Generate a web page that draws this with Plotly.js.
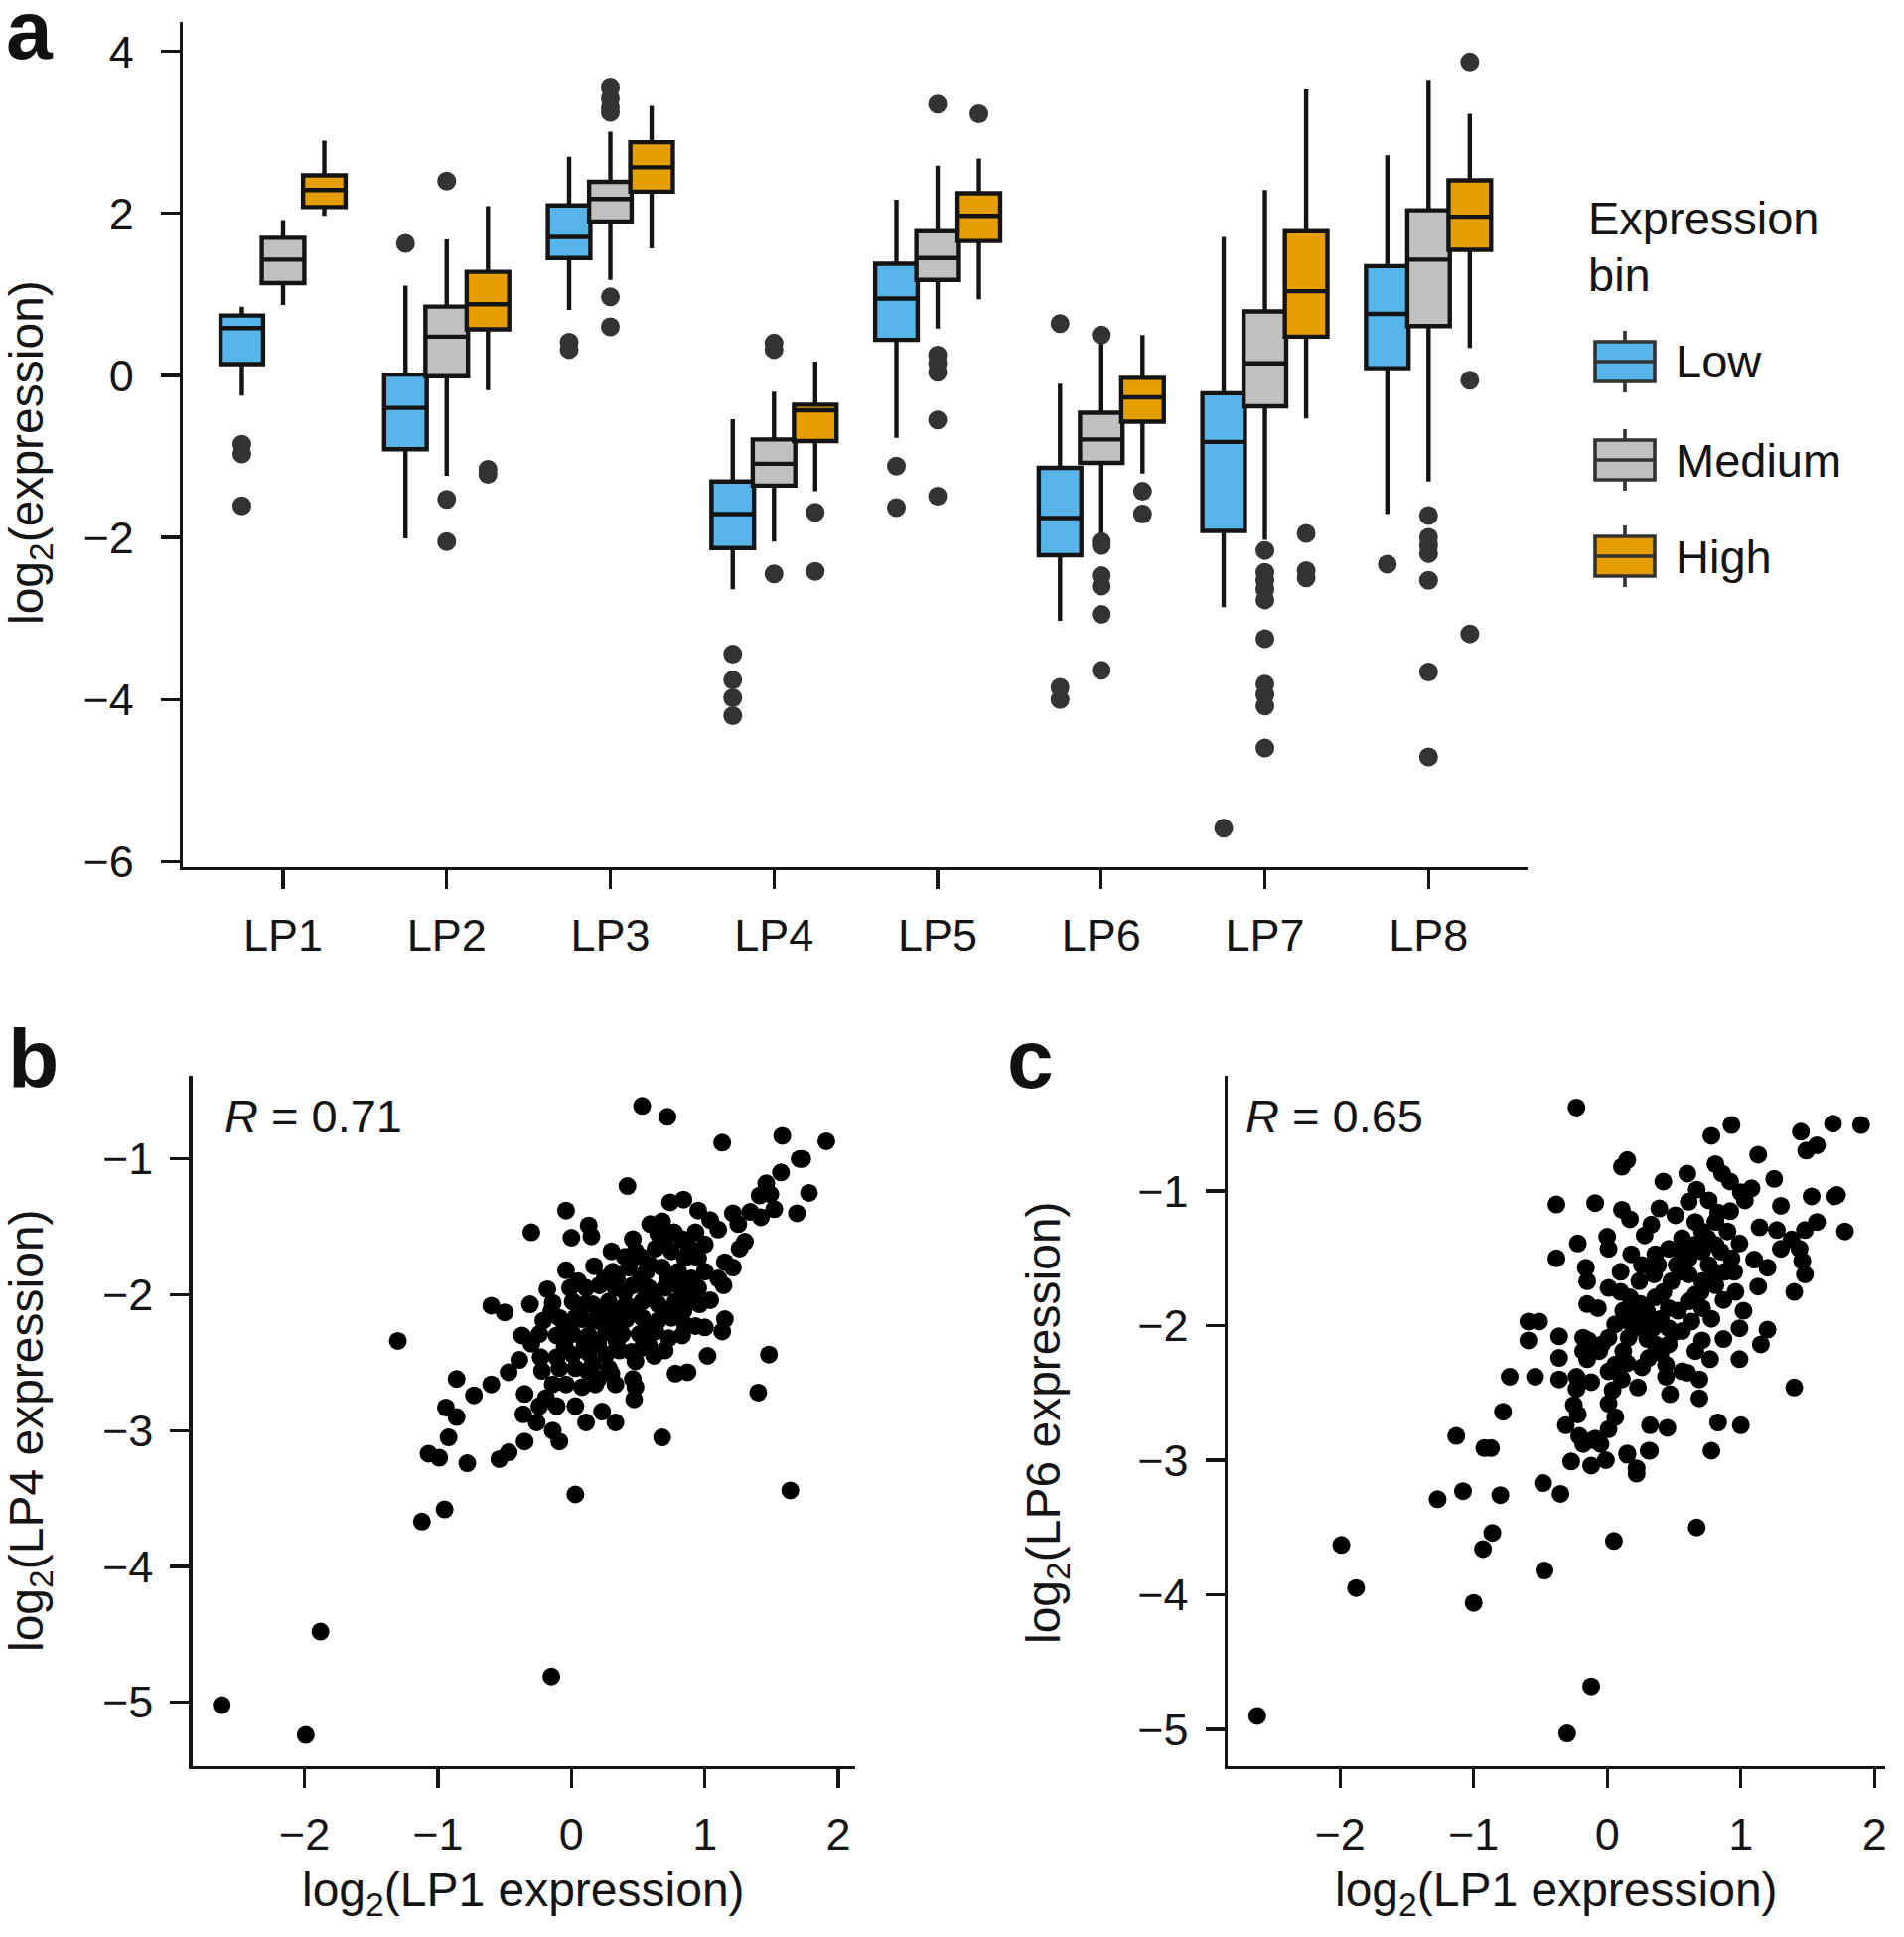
<!DOCTYPE html>
<html>
<head>
<meta charset="utf-8">
<script src="https://cdn.plot.ly/plotly-3.0.1.min.js"></script>
<style>html,body{margin:0;padding:0;background:#fff;}#chart{width:1917px;height:1950px;}</style>
</head>
<body>
<div id="chart"></div>
<script>
// ---------------- DATA ----------------
const categories = ['LP1','LP2','LP3','LP4','LP5','LP6','LP7','LP8'];
const bins = ['Low','Medium','High'];

// Panel a: box statistics per bin (one value per LP)
const lowQ1     = [0.14, -0.91, 1.45, -2.13, 0.44, -2.22, -1.92, 0.09];
const lowMedian = [0.585, -0.40, 1.71, -1.71, 0.95, -1.76, -0.82, 0.76];
const lowQ3     = [0.74, 0.01, 2.10, -1.31, 1.38, -1.14, -0.22, 1.35];
const lowLower  = [-0.25, -2.01, 0.81, -2.64, -0.77, -3.03, -2.86, -1.71];
const lowUpper  = [0.85, 1.11, 2.70, -0.54, 2.17, -0.10, 1.71, 2.72];
const lowOutliers = [[-0.85,-0.97,-1.61],[1.63],[0.41,0.32],[-3.44,-3.76,-3.98,-4.20],[-1.12,-1.63],[0.64,-3.85,-4.00],[-5.59],[-2.33]];

const medQ1     = [1.14, -0.01, 1.90, -1.36, 1.18, -1.08, -0.38, 0.61];
const medMedian = [1.43, 0.48, 2.18, -1.09, 1.45, -0.79, 0.15, 1.43];
const medQ3     = [1.70, 0.85, 2.39, -0.79, 1.78, -0.46, 0.79, 2.04];
const medLower  = [0.87, -1.24, 1.18, -2.05, 0.58, -1.96, -2.03, -1.31];
const medUpper  = [1.92, 1.68, 3.01, -0.20, 2.59, 0.42, 2.29, 3.64];
const medOutliers = [[],[2.40,-1.53,-2.05],[3.55,3.42,3.31,3.25,0.97,0.60],[0.40,0.32,-2.45],[3.35,0.25,0.15,0.04,-0.55,-1.49],[0.50,-2.05,-2.10,-2.47,-2.60,-2.95,-3.64],[-2.16,-2.43,-2.53,-2.64,-2.77,-3.25,-3.81,-3.94,-4.08,-4.60],[-1.73,-2.00,-2.10,-2.20,-2.53,-3.66,-4.71]];

const highQ1     = [2.08, 0.57, 2.27, -0.81, 1.66, -0.57, 0.48, 1.55];
const highMedian = [2.29, 0.88, 2.57, -0.43, 1.97, -0.27, 1.04, 1.96];
const highQ3     = [2.47, 1.28, 2.88, -0.36, 2.25, -0.03, 1.78, 2.41];
const highLower  = [1.97, -0.18, 1.57, -1.43, 0.94, -1.21, -0.53, 0.34];
const highUpper  = [2.90, 2.09, 3.33, 0.17, 2.68, 0.50, 3.53, 3.23];
const highOutliers = [[],[-1.16,-1.22],[],[-1.69,-2.42],[3.23],[-1.43,-1.71],[-1.95,-2.41,-2.50],[3.87,-0.06,-3.19]];

// Panel b: LP1 vs LP4 (log2 expression)
const lp1_b = [1.13,1.58,1.91,1.71,1.73,1.57,1.46,1.41,1.49,1.78,1.69,1.52,1.42,1.34,1.21,1.25,1.30,1.26,0.42,-0.04,
-0.30,0.00,0.13,0.15,0.74,0.84,0.95,1.04,1.10,0.59,0.68,0.77,0.46,0.70,0.83,0.93,1.00,0.30,0.48,0.63,
0.75,0.85,0.95,1.15,1.21,0.17,-0.04,0.31,0.43,0.56,0.68,0.80,0.90,1.00,1.10,1.14,1.04,-0.18,-0.01,0.11,
0.21,0.33,0.46,0.58,0.70,0.83,0.95,-0.31,-0.60,-0.50,-0.14,0.01,0.16,0.28,0.41,0.53,0.65,0.78,-0.21,-0.09,
0.03,0.16,0.28,0.41,0.53,0.65,0.75,0.85,0.93,1.00,1.15,1.13,-0.37,-0.24,-0.11,0.01,0.13,0.26,0.38,0.51,
0.63,0.73,0.83,0.53,0.70,-0.23,-0.11,0.01,0.13,0.26,0.36,0.48,-0.39,-0.22,-0.09,0.03,0.16,0.28,-0.47,-0.60,
-0.73,-0.14,0.08,0.18,0.33,0.46,0.48,0.47,-0.35,-0.19,-0.24,-0.11,0.03,-0.36,-0.26,-0.14,-0.09,0.11,0.23,0.33,
-0.35,-0.47,-0.54,-0.78,0.68,0.78,0.87,1.02,1.48,1.40,
0.34,0.22,0.47,0.34,0.59,0.10,0.34,0.72,0.59,0.84,0.10,-0.05,0.20,-0.04,0.83,0.96,0.58,
0.05,0.25,0.40,0.52,0.62,0.72,0.90,0.22,0.45,0.62,0.08,-0.15,0.30,0.40,0.52,0.88,0.65,0.12,-0.30,-0.05,0.20,0.36,0.56,0.78,
-1.30,-0.86,-0.94,-0.86,-0.92,-1.07,-0.99,-1.12,-0.95,0.03,1.64,-1.88,-2.62,-1.99,-0.15,0.53,0.72];
const lp4_b = [-0.88,-0.83,-0.87,-1.00,-1.00,-1.10,-1.18,-1.27,-1.26,-1.25,-1.40,-1.37,-1.43,-1.39,-1.40,-1.48,-1.61,-1.66,-1.20,-1.38,
-1.54,-1.58,-1.49,-1.57,-1.32,-1.30,-1.38,-1.45,-1.52,-1.48,-1.46,-1.54,-1.59,-1.61,-1.59,-1.54,-1.63,-1.68,-1.68,-1.66,
-1.68,-1.73,-1.73,-1.76,-1.80,-1.79,-1.82,-1.83,-1.80,-1.83,-1.80,-1.83,-1.88,-1.83,-1.88,-1.93,-2.04,-1.96,-1.95,-1.95,
-1.93,-1.95,-1.93,-1.95,-1.95,-1.98,-1.95,-2.07,-2.08,-2.13,-2.06,-2.05,-2.07,-2.05,-2.07,-2.05,-2.07,-2.05,-2.19,-2.17,
-2.17,-2.19,-2.17,-2.18,-2.17,-2.19,-2.17,-2.22,-2.23,-2.24,-2.18,-2.27,-2.30,-2.29,-2.30,-2.29,-2.30,-2.28,-2.29,-2.29,
-2.27,-2.32,-2.30,-2.39,-2.41,-2.46,-2.46,-2.44,-2.43,-2.44,-2.41,-2.49,-2.48,-2.56,-2.54,-2.54,-2.51,-2.54,-2.57,-2.66,
-2.74,-2.66,-2.68,-2.66,-2.66,-2.62,-2.68,-2.77,-2.73,-2.76,-2.82,-2.82,-2.82,-2.88,-2.94,-3.00,-3.08,-2.94,-2.86,-2.94,
-3.08,-3.16,-3.21,-3.24,-3.05,-2.58,-2.57,-2.45,-2.44,-2.72,
-1.88,-2.12,-2.12,-2.24,-2.24,-2.37,-2.35,-1.88,-1.78,-2.12,-2.07,-2.23,-2.62,-2.66,-1.88,-2.07,-2.37,
-1.90,-1.88,-1.98,-1.88,-2.00,-2.12,-2.05,-2.20,-2.42,-2.45,-2.18,-2.12,-2.58,-1.72,-1.72,-1.65,-1.55,-2.56,-2.36,-2.38,-2.36,-2.12,-2.00,-1.92,
-2.34,-2.62,-2.83,-2.90,-3.05,-3.17,-3.20,-3.67,-3.58,-3.47,-3.44,-4.48,-5.02,-5.24,-4.81,-0.61,-0.69];

// Panel c: LP1 vs LP6 (log2 expression)
const lp1_c = [0.93,0.78,1.45,1.69,1.90,1.57,1.49,1.13,0.15,0.11,0.81,0.86,0.92,1.00,1.08,1.03,0.60,0.42,0.67,1.25,
1.53,1.70,1.72,1.30,-0.38,-0.09,0.11,0.17,0.39,0.51,0.61,0.76,0.83,1.14,1.27,1.57,1.78,1.48,1.38,1.30,
1.44,1.46,1.48,1.40,1.13,1.10,1.20,-0.22,0.00,0.01,-0.38,-0.16,-0.15,-0.15,-0.07,0.01,0.10,0.18,0.28,0.33,
0.46,0.56,0.66,0.71,0.81,0.90,0.99,0.93,0.88,0.96,0.87,0.71,0.76,0.71,0.61,0.56,0.48,0.35,0.24,0.17,
0.12,0.25,0.36,0.46,0.53,0.63,0.78,0.71,0.61,1.02,0.99,1.20,1.15,0.87,0.77,0.99,0.71,0.66,0.56,0.44,
0.44,0.47,0.69,0.69,0.83,1.00,0.78,1.40,0.06,0.16,0.21,0.01,-0.04,0.12,0.06,0.01,0.34,0.36,0.31,0.26,
0.23,0.11,0.04,0.01,0.06,0.01,-0.09,-0.05,-0.01,0.32,0.45,0.15,0.31,0.22,-0.18,-0.14,-0.18,-0.06,-0.15,-0.36,
-0.36,-0.36,-0.23,-0.12,-0.23,-0.25,-0.22,-0.31,-0.21,-0.18,-0.11,-0.27,-0.12,-0.59,-0.51,-0.59,-0.73,-0.54,-0.78,-0.92,
-0.87,0.46,0.26,0.16,0.81,0.66,0.36,0.26,0.81,0.61,0.46,0.56,
0.30,0.40,0.50,0.20,0.30,0.42,0.55,0.65,0.75,0.85,0.80,0.70,0.52,0.40,0.15,0.38,0.92,0.95,0.60,0.10,
-1.13,-1.27,-1.08,-0.80,-0.48,-0.35,-0.86,-0.93,-1.99,-1.88,-0.47,-1.00,0.05,-0.23,-2.62,-0.12,-0.30,0.67,0.15,0.22,0.32];
const lp6_c = [-0.51,-0.59,-0.56,-0.50,-0.51,-0.66,-0.70,-0.73,-0.77,-0.82,-0.80,-0.87,-0.93,-1.01,-0.98,-1.07,-0.87,-0.93,-0.99,-0.91,
-1.04,-1.04,-1.03,-1.11,-1.10,-1.09,-1.14,-1.21,-1.13,-1.18,-1.08,-1.07,-1.16,-1.27,-1.29,-1.23,-1.30,-1.29,-1.36,-1.43,
-1.43,-1.52,-1.62,-1.75,-1.71,-1.51,-1.57,-1.39,-1.34,-1.43,-1.50,-1.57,-1.67,-1.84,-1.87,-1.72,-1.60,-1.47,-1.33,-1.25,
-1.43,-1.35,-1.23,-1.30,-1.23,-1.30,-1.39,-1.50,-1.60,-1.75,-1.81,-1.45,-1.55,-1.67,-1.50,-1.60,-1.67,-1.62,-1.67,-1.79,
-1.89,-1.84,-1.79,-1.87,-1.89,-1.97,-1.95,-1.87,-1.82,-1.89,-2.02,-2.03,-2.14,-2.10,-2.25,-2.25,-2.11,-2.19,-2.34,-2.29,
-2.38,-2.51,-2.40,-2.54,-2.72,-2.74,-2.93,-2.46,-1.99,-1.97,-2.02,-2.09,-2.14,-2.19,-2.29,-2.34,-2.02,-2.14,-2.24,-2.31,
-2.46,-2.40,-2.48,-2.58,-2.68,-2.77,-2.84,-2.88,-3.00,-2.74,-2.76,-2.95,-2.93,-3.06,-2.09,-2.11,-2.19,-2.19,-2.25,-2.08,
-2.24,-2.40,-2.38,-2.42,-2.47,-2.59,-2.66,-2.74,-2.82,-2.88,-2.85,-3.01,-3.04,-1.97,-1.97,-2.11,-2.38,-2.38,-2.64,-2.91,
-2.91,-2.02,-1.99,-2.09,-1.70,-1.77,-1.47,-1.55,-1.40,-1.62,-2.14,-2.04,
-1.90,-1.95,-2.05,-1.90,-2.10,-1.75,-1.45,-1.40,-1.35,-1.45,-1.60,-1.75,-1.55,-2.20,-2.28,-1.55,-1.15,-1.60,-2.35,-1.75,
-2.82,-3.29,-3.23,-3.26,-3.17,-3.25,-3.54,-3.66,-3.63,-3.95,-3.82,-4.06,-3.60,-0.38,-4.90,-4.68,-5.03,-3.50,-2.96,-3.10,-2.93];

const rLabels = ['0.71', '0.65'];

// ---------------- STYLE / LAYOUT ----------------
const W = 1917, H = 1950;
const px = v => v / W;
const py = v => 1 - v / H;
const FONT = 'Liberation Sans, Arial, Helvetica, sans-serif';
const INK = '#141414';
const binColors = ['#56B4E9', '#C0C0C0', '#E69F00'];
const binOffset = [-0.252, 0, 0.252];
const boxWidth = 0.26;

const stats = [
  {q1: lowQ1, median: lowMedian, q3: lowQ3, lower: lowLower, upper: lowUpper, out: lowOutliers},
  {q1: medQ1, median: medMedian, q3: medQ3, lower: medLower, upper: medUpper, out: medOutliers},
  {q1: highQ1, median: highMedian, q3: highQ3, lower: highLower, upper: highUpper, out: highOutliers}
];

const traces = [];
stats.forEach((s, b) => {
  const xs = categories.map((c, i) => i + 1 + binOffset[b]);
  traces.push({
    type: 'box', name: bins[b], x: xs,
    q1: s.q1, median: s.median, q3: s.q3, lowerfence: s.lower, upperfence: s.upper,
    width: boxWidth, boxpoints: false, fillcolor: binColors[b],
    line: {color: INK, width: 4.4}, whiskerwidth: 0,
    xaxis: 'x', yaxis: 'y', showlegend: false, hoverinfo: 'skip'
  });
});
stats.forEach((s, b) => {
  const ox = [], oy = [];
  s.out.forEach((arr, i) => arr.forEach(v => { ox.push(i + 1 + binOffset[b]); oy.push(v); }));
  traces.push({
    type: 'scatter', mode: 'markers', x: ox, y: oy,
    marker: {size: 19, color: '#333333'},
    xaxis: 'x', yaxis: 'y', showlegend: false, hoverinfo: 'skip'
  });
});
traces.push({type: 'scatter', mode: 'markers', x: lp1_b, y: lp4_b,
  marker: {size: 18, color: '#000'}, xaxis: 'x2', yaxis: 'y2', showlegend: false, hoverinfo: 'skip'});
traces.push({type: 'scatter', mode: 'markers', x: lp1_c, y: lp6_c,
  marker: {size: 18, color: '#000'}, xaxis: 'x3', yaxis: 'y3', showlegend: false, hoverinfo: 'skip'});

const TICK = 45;
const axisBase = {
  showline: true, linecolor: INK, linewidth: 3.2, mirror: false,
  ticks: 'outside', ticklen: 19, tickwidth: 3.2, tickcolor: INK,
  showgrid: false, zeroline: false, fixedrange: true,
  tickfont: {family: FONT, size: TICK, color: INK}
};

const layout = {
  width: W, height: H,
  margin: {l: 0, r: 0, t: 0, b: 0},
  paper_bgcolor: '#fff', plot_bgcolor: 'rgba(0,0,0,0)',
  showlegend: false,
  font: {family: FONT, color: INK},
  xaxis: Object.assign({}, axisBase, {domain: [px(184), px(1538)], range: [0.387, 8.605],
    tickvals: categories.map((c, i) => i + 1), ticktext: categories, anchor: 'y', ticklabelstandoff: 8}),
  yaxis: Object.assign({}, axisBase, {domain: [py(873), py(22)], range: [-6.07, 4.365],
    tickvals: [-6, -4, -2, 0, 2, 4], anchor: 'x', ticklabelstandoff: 18}),
  xaxis2: Object.assign({}, axisBase, {domain: [px(193.5), px(861)], range: [-2.841, 2.126],
    tickvals: [-2, -1, 0, 1, 2], anchor: 'y2', ticklabelstandoff: 8}),
  yaxis2: Object.assign({}, axisBase, {domain: [py(1778), py(1083)], range: [-5.47, -0.388],
    tickvals: [-5, -4, -3, -2, -1], anchor: 'x2', ticklabelstandoff: 8}),
  xaxis3: Object.assign({}, axisBase, {domain: [px(1235.7), px(1897.7)], range: [-2.844, 2.078],
    tickvals: [-2, -1, 0, 1, 2], anchor: 'y3', ticklabelstandoff: 8}),
  yaxis3: Object.assign({}, axisBase, {domain: [py(1778), py(1083)], range: [-5.273, -0.144],
    tickvals: [-5, -4, -3, -2, -1], anchor: 'x3', ticklabelstandoff: 8}),
  annotations: [],
  shapes: []
};

function ann(text, x, y, opts) {
  layout.annotations.push(Object.assign({
    text: text, x: px(x), y: py(y), xref: 'paper', yref: 'paper',
    showarrow: false, xanchor: 'center', yanchor: 'middle',
    font: {family: FONT, size: 47, color: INK}
  }, opts || {}));
}

// panel letters
const LETTER = {family: 'Liberation Sans, Arial, sans-serif', size: 84, color: '#111', weight: 700};
ann('<b>a</b>', 4, 30, {xanchor: 'left', font: LETTER, height: 60});
ann('<b>b</b>', 6, 1066, {xanchor: 'left', font: LETTER});
ann('<b>c</b>', 1012, 1066, {xanchor: 'left', font: LETTER});

// axis titles
const TITLE = {family: FONT, size: 48, color: INK};
ann('log<sub>2</sub>(expression)', 30, 456, {textangle: -90, font: TITLE});
ann('log<sub>2</sub>(LP4 expression)', 30, 1440, {textangle: -90, font: TITLE});
ann('log<sub>2</sub>(LP6 expression)', 1054, 1432, {textangle: -90, font: TITLE});
ann('log<sub>2</sub>(LP1 expression)', 527, 1906, {font: TITLE});
ann('log<sub>2</sub>(LP1 expression)', 1567, 1906, {font: TITLE});

// correlation labels
ann('<i>R</i> = ' + rLabels[0], 224, 1123, {xanchor: 'left'});
ann('<i>R</i> = ' + rLabels[1], 1252, 1123, {xanchor: 'left'});

// legend
ann('Expression', 1597, 219, {xanchor: 'left'});
ann('bin', 1597, 277, {xanchor: 'left'});
const legY = [364, 463, 560];
bins.forEach((b, i) => {
  const cy = legY[i];
  ann(b, 1685, cy, {xanchor: 'left'});
  const L = {color: '#333', width: 3.6};
  layout.shapes.push({type: 'line', xref: 'paper', yref: 'paper', x0: px(1636), x1: px(1636), y0: py(cy - 31), y1: py(cy + 31), line: L});
  layout.shapes.push({type: 'rect', xref: 'paper', yref: 'paper', x0: px(1606), x1: px(1666), y0: py(cy - 20), y1: py(cy + 20), fillcolor: binColors[i], line: L});
  layout.shapes.push({type: 'line', xref: 'paper', yref: 'paper', x0: px(1606), x1: px(1666), y0: py(cy), y1: py(cy), line: L});
});

Plotly.newPlot('chart', traces, layout, {staticPlot: true, displayModeBar: false});
</script>
</body>
</html>
